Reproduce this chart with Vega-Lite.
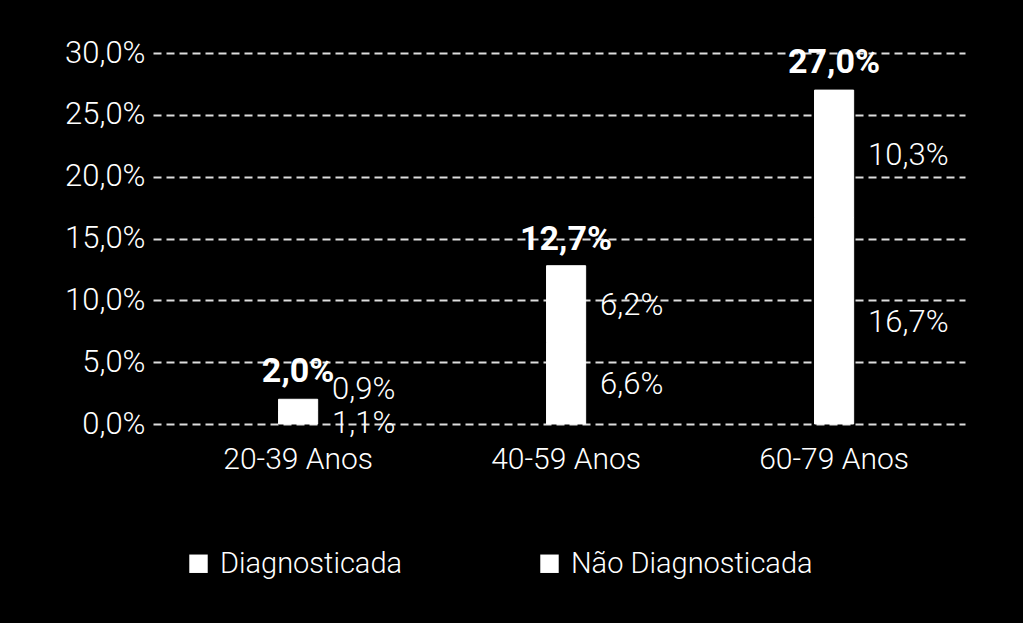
{
  "$schema": "https://vega.github.io/schema/vega-lite/v6.json",
  "width": 812,
  "height": 371,
  "autosize": {"type": "none"},
  "padding": {"left": 153, "top": 53, "right": 58, "bottom": 199},
  "background": "black",
  "config": {"view": {"stroke": null}, "font": "Roboto"},
  "datasets": {
    "segs": [
      {"faixa": "20-39 Anos", "tipo": "Diagnosticada", "valor": 1.1},
      {"faixa": "20-39 Anos", "tipo": "Não Diagnosticada", "valor": 0.9},
      {"faixa": "40-59 Anos", "tipo": "Diagnosticada", "valor": 6.6},
      {"faixa": "40-59 Anos", "tipo": "Não Diagnosticada", "valor": 6.2},
      {"faixa": "60-79 Anos", "tipo": "Diagnosticada", "valor": 16.7},
      {"faixa": "60-79 Anos", "tipo": "Não Diagnosticada", "valor": 10.3}
    ],
    "totais": [
      {"faixa": "20-39 Anos", "total": 2.0},
      {"faixa": "40-59 Anos", "total": 12.7},
      {"faixa": "60-79 Anos", "total": 27.0}
    ]
  },
  "layer": [
    {
      "data": {"name": "segs"},
      "mark": {"type": "bar", "stroke": "white", "strokeWidth": 1},
      "encoding": {
        "x": {
          "field": "faixa", "type": "nominal",
          "scale": {"paddingInner": 0.854, "paddingOuter": 0.442, "align": 0.53},
          "axis": {"title": null, "labelAngle": 0, "labelColor": "white", "labelFontSize": 30, "labelFontWeight": 300, "labelPadding": 20, "ticks": false, "domain": false, "grid": false}
        },
        "y": {
          "field": "valor", "type": "quantitative", "stack": "zero",
          "scale": {"domain": [0, 30], "nice": false},
          "axis": {"title": null, "values": [0, 5, 10, 15, 20, 25, 30], "labelExpr": "replace(format(datum.value, '.1f'), '.', ',') + '%'", "labelColor": "white", "labelFontSize": 31, "labelFontWeight": 300, "labelPadding": 8, "ticks": false, "domain": false, "grid": true, "gridColor": "#dddddd", "gridDash": [8, 5], "gridWidth": 2}
        },
        "color": {
          "field": "tipo", "type": "nominal",
          "scale": {"range": ["white", "white"]},
          "legend": {"title": null, "orient": "none", "legendX": 31, "legendY": 496, "direction": "horizontal", "columns": 2, "columnPadding": 132, "symbolType": "square", "symbolSize": 340, "symbolStrokeWidth": 0, "symbolFillColor": "white", "labelColor": "white", "labelFontSize": 29, "labelFontWeight": 300, "labelOffset": 7, "labelLimit": 400}
        },
        "order": {"field": "tipo", "sort": "ascending"}
      }
    },
    {
      "data": {"name": "segs"},
      "transform": [
        {"stack": "valor", "groupby": ["faixa"], "sort": [{"field": "tipo"}], "as": ["v0", "v1"]},
        {"calculate": "(datum.v0 + datum.v1) / 2", "as": "meio"},
        {"calculate": "replace(format(datum.valor, '.1f'), '.', ',') + '%'", "as": "rotulo"},
        {"filter": "datum.faixa != '20-39 Anos'"}
      ],
      "mark": {"type": "text", "align": "left", "baseline": "middle", "dx": 34, "dy": 2, "color": "white", "fontSize": 31, "fontWeight": 300},
      "encoding": {
        "x": {"field": "faixa", "type": "nominal"},
        "y": {"field": "meio", "type": "quantitative"},
        "text": {"field": "rotulo"}
      }
    },
    {
      "data": {"name": "segs"},
      "transform": [
        {"stack": "valor", "groupby": ["faixa"], "sort": [{"field": "tipo"}], "as": ["v0", "v1"]},
        {"calculate": "(datum.v0 + datum.v1) / 2", "as": "meio"},
        {"calculate": "replace(format(datum.valor, '.1f'), '.', ',') + '%'", "as": "rotulo"},
        {"filter": "datum.faixa == '20-39 Anos' && datum.tipo == 'Diagnosticada'"}
      ],
      "mark": {"type": "text", "align": "left", "baseline": "middle", "dx": 34, "dy": 7, "color": "white", "fontSize": 31, "fontWeight": 300},
      "encoding": {
        "x": {"field": "faixa", "type": "nominal"},
        "y": {"field": "meio", "type": "quantitative"},
        "text": {"field": "rotulo"}
      }
    },
    {
      "data": {"name": "segs"},
      "transform": [
        {"stack": "valor", "groupby": ["faixa"], "sort": [{"field": "tipo"}], "as": ["v0", "v1"]},
        {"calculate": "(datum.v0 + datum.v1) / 2", "as": "meio"},
        {"calculate": "replace(format(datum.valor, '.1f'), '.', ',') + '%'", "as": "rotulo"},
        {"filter": "datum.faixa == '20-39 Anos' && datum.tipo == 'Não Diagnosticada'"}
      ],
      "mark": {"type": "text", "align": "left", "baseline": "middle", "dx": 34, "dy": -15, "color": "white", "fontSize": 31, "fontWeight": 300},
      "encoding": {
        "x": {"field": "faixa", "type": "nominal"},
        "y": {"field": "meio", "type": "quantitative"},
        "text": {"field": "rotulo"}
      }
    },
    {
      "data": {"name": "totais"},
      "transform": [
        {"calculate": "replace(format(datum.total, '.1f'), '.', ',') + '%'", "as": "rotulo"}
      ],
      "mark": {"type": "text", "align": "center", "baseline": "alphabetic", "dy": -17, "color": "white", "fontSize": 34, "fontWeight": "bold"},
      "encoding": {
        "x": {"field": "faixa", "type": "nominal"},
        "y": {"field": "total", "type": "quantitative"},
        "text": {"field": "rotulo"}
      }
    }
  ]
}
